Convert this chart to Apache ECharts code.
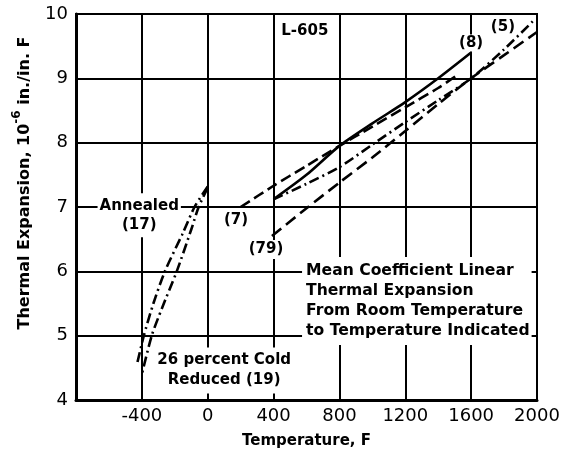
<!DOCTYPE html>
<html>
<head>
<meta charset="utf-8">
<script src="https://cdn.jsdelivr.net/npm/echarts@6/dist/echarts.min.js"></script>
<style>
  html, body { margin: 0; padding: 0; background: #ffffff; }
  #chart { width: 566px; height: 454px; }
</style>
</head>
<body>
<div id="chart"></div>
<script>
// Axis ranges and ticks
const xTicks = [-800, -400, 0, 400, 800, 1200, 1600, 2000];
const yTicks = [4, 5, 6, 7, 8, 9, 10];

// Mean coefficient curves, room temperature upward: [temperature F, 10^-6 in./in./F]
const ref8 = [[400, 7.12], [600, 7.5], [800, 7.95], [1000, 8.3], [1200, 8.63], [1400, 9.0], [1600, 9.4]];
const ref7 = [[200, 7.0], [400, 7.33], [600, 7.64], [800, 7.95], [1000, 8.25], [1200, 8.55], [1400, 8.85], [1520, 9.06]];
const ref5 = [[400, 7.12], [600, 7.36], [800, 7.62], [1000, 7.97], [1200, 8.32], [1400, 8.66], [1600, 9.0], [1800, 9.45], [1980, 9.9]];
const ref79 = [[390, 6.55], [600, 6.98], [800, 7.38], [1000, 7.77], [1200, 8.18], [1400, 8.6], [1600, 9.0], [1800, 9.36], [2000, 9.72]];

// Sub-zero curves
const annealed17 = [[0, 7.32], [-80, 7.0], [-150, 6.6], [-260, 6.0], [-330, 5.5], [-388, 5.0], [-430, 4.55]];
const coldReduced19 = [[0, 7.3], [-55, 7.0], [-100, 6.65], [-188, 6.0], [-279, 5.42], [-340, 5.0], [-400, 4.4]];

// Text notes placed in data coordinates
const noteText = [
  'L-605',
  '(8)',
  '(5)',
  '(7)',
  '(79)',
  'Annealed\n(17)',
  '26 percent Cold\nReduced (19)',
  'Mean Coefficient Linear\nThermal Expansion\nFrom Room Temperature\nto Temperature Indicated'
];
const noteAt = [
  [590, 9.74],
  [1600, 9.55],
  [1793, 9.8],
  [172, 6.8],
  [354, 6.34],
  [-416, 6.87],
  [100, 4.46],
  [573, 5.54]
];

const FONT = 'DejaVu Sans';
const INK = '#000000';

function curve(name, data, dash) {
  return {
    name: name,
    type: 'line',
    data: data,
    smooth: 0.25,
    symbol: 'none',
    lineStyle: { color: INK, width: 2.6, type: dash, cap: 'butt' },
    z: 3
  };
}

const noteStyles = [
  { fontSize: 15 },
  { fontSize: 15, backgroundColor: '#fff', padding: [1, 1] },
  { fontSize: 15 },
  { fontSize: 15, backgroundColor: '#fff', padding: [1, 1] },
  { fontSize: 15, backgroundColor: '#fff', padding: [2, 1] },
  { fontSize: 15, lineHeight: 19, backgroundColor: '#fff', padding: [3, 2] },
  { fontSize: 15, lineHeight: 20, backgroundColor: '#fff', padding: [3, 3] },
  { fontSize: 15.6, lineHeight: 20, align: 'left', backgroundColor: '#fff', padding: [4, 2, 4, 4] }
];

const notes = noteText.map((t, i) => ({
  value: noteAt[i],
  label: Object.assign({
    show: true,
    position: 'inside',
    formatter: t,
    color: INK,
    opacity: 1,
    textBorderWidth: 0,
    textBorderColor: 'transparent',
    fontFamily: FONT,
    fontWeight: 'bold',
    align: 'center',
    verticalAlign: 'middle'
  }, noteStyles[i])
}));

const chart = echarts.init(document.getElementById('chart'), null, { renderer: 'canvas' });

chart.setOption({
  animation: false,
  backgroundColor: '#ffffff',
  grid: {
    left: 76, top: 14, width: 461, height: 388,
    show: true, borderColor: INK, borderWidth: 2, backgroundColor: 'transparent'
  },
  xAxis: {
    type: 'value',
    min: xTicks[0],
    max: xTicks[xTicks.length - 1],
    interval: 400,
    name: 'Temperature, F',
    nameLocation: 'middle',
    nameGap: 34,
    nameTextStyle: { fontFamily: FONT, fontWeight: 'bold', fontSize: 15, color: INK },
    axisLine: { show: true, onZero: false, lineStyle: { color: INK, width: 3 } },
    axisTick: { show: false },
    axisLabel: {
      fontFamily: FONT, fontSize: 18, color: INK, margin: 7,
      formatter: v => (v === xTicks[0] ? '' : String(v))
    },
    splitLine: { show: true, lineStyle: { color: INK, width: 2 } }
  },
  yAxis: {
    type: 'value',
    min: yTicks[0],
    max: yTicks[yTicks.length - 1],
    interval: 1,
    axisLine: { show: true, onZero: false, lineStyle: { color: INK, width: 3 } },
    axisTick: { show: false },
    axisLabel: { fontFamily: FONT, fontSize: 18, color: INK, margin: 8 },
    splitLine: { show: true, lineStyle: { color: INK, width: 2 } }
  },
  graphic: [{
    type: 'text',
    x: 22,
    y: 183,
    rotation: Math.PI / 2,
    style: {
      text: '{n|Thermal Expansion, 10}{s|-6}{n| in./in. F}',
      align: 'center',
      verticalAlign: 'middle',
      fill: INK,
      rich: {
        n: { fontFamily: FONT, fontWeight: 'bold', fontSize: 16, lineHeight: 22, verticalAlign: 'bottom', fill: INK },
        s: { fontFamily: FONT, fontWeight: 'bold', fontSize: 12, lineHeight: 22, verticalAlign: 'top', fill: INK }
      }
    }
  }],
  series: [
    curve('(8)', ref8, 'solid'),
    curve('(7)', ref7, [11, 5]),
    curve('(5)', ref5, [10, 4, 2, 4]),
    curve('(79)', ref79, [12, 6]),
    curve('Annealed (17)', annealed17, [10, 4, 2, 4]),
    curve('26 percent Cold Reduced (19)', coldReduced19, [10, 4, 2, 4]),
    {
      name: 'notes',
      type: 'scatter',
      symbolSize: 0,
      itemStyle: { opacity: 1 },
      data: notes,
      z: 4,
      silent: true
    }
  ]
});
</script>
</body>
</html>
